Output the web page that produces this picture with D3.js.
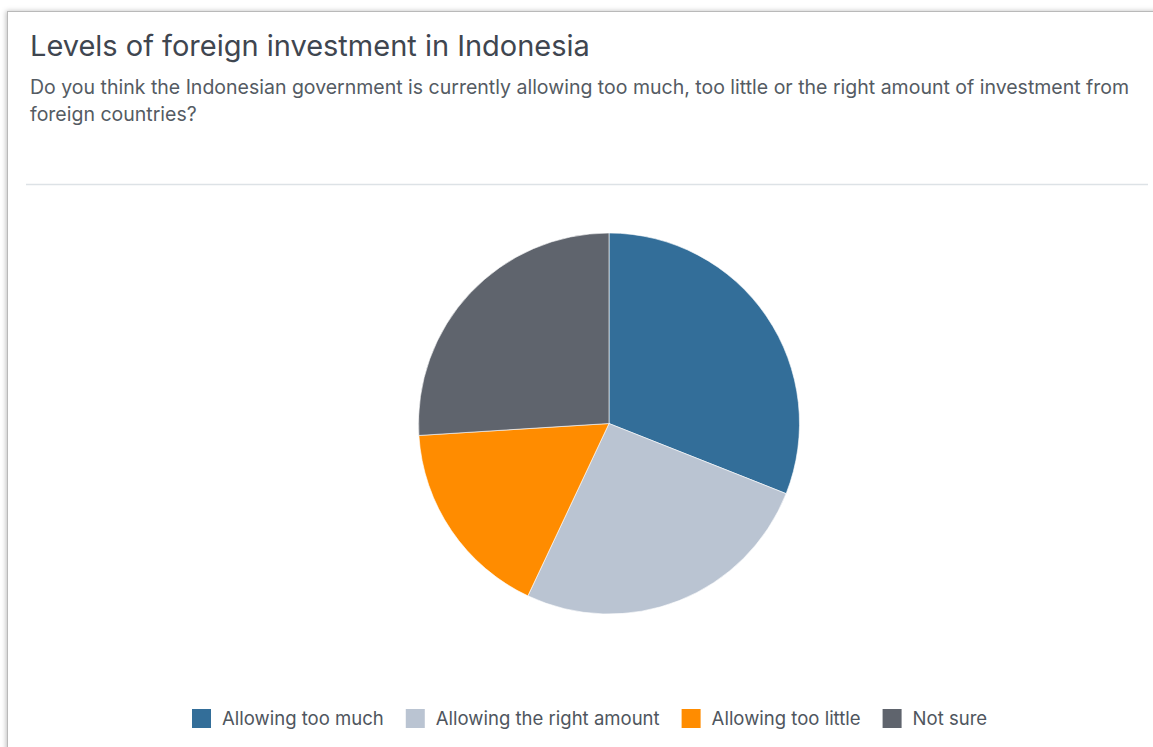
<!DOCTYPE html>
<html>
<head>
<meta charset="utf-8">
<script src="https://cdn.jsdelivr.net/npm/d3@7"></script>
<style>
  html, body { margin: 0; padding: 0; background: #ffffff; }
  svg { display: block; }
</style>
</head>
<body>
<svg id="chart" width="1153" height="747"></svg>
<script>
// Survey answers (share of respondents, %)
const categories = ["Allowing too much", "Allowing the right amount", "Allowing too little", "Not sure"];
const shares = [31, 26, 17, 26];
const colors = ["#336e99", "#bac4d2", "#ff8c00", "#5f646d"];

const titleText = "Levels of foreign investment in Indonesia";
const subtitleLines = [
  "Do you think the Indonesian government is currently allowing too much, too little or the right amount of investment from",
  "foreign countries?"
];

const W = 1153, H = 747;
const svg = d3.select("#chart");
const FONT = "Inter, 'Open Sans', sans-serif";

// Card with a soft shadow
const defs = svg.append("defs");
const f = defs.append("filter").attr("id", "shadow")
  .attr("x", "-5%").attr("y", "-5%").attr("width", "110%").attr("height", "110%");
f.append("feDropShadow").attr("dx", -1).attr("dy", 0).attr("stdDeviation", 2.5)
  .attr("flood-color", "#000").attr("flood-opacity", 0.25);

svg.append("rect")
  .attr("x", 7.5).attr("y", 11.5).attr("width", W + 20).attr("height", H + 20)
  .attr("fill", "#ffffff").attr("stroke", "#b9b9b9").attr("stroke-width", 1)
  .attr("filter", "url(#shadow)");

// Fit a text element to a target width by scaling its font size
function fitWidth(sel, target) {
  const w = sel.node().getComputedTextLength();
  const fs = parseFloat(sel.attr("font-size"));
  sel.attr("font-size", fs * target / w);
  return fs * target / w;
}

// Title and question
const title = svg.append("text")
  .attr("x", 30).attr("y", 56)
  .attr("font-family", FONT).attr("font-size", 26).attr("font-weight", 400)
  .attr("fill", "#3f4650")
  .text(titleText);
fitWidth(title, 560);

const sub = svg.append("g").attr("font-family", FONT).attr("fill", "#545b63");
subtitleLines.forEach((line, i) => {
  const t = sub.append("text")
    .attr("x", 30).attr("y", 94 + i * 27)
    .attr("font-size", 16.5)
    .text(line);
  if (i === 0) fitWidth(t, 1100);
});
const subFs = sub.select("text").attr("font-size");
sub.selectAll("text").attr("font-size", subFs);

// Separator under the header
svg.append("line")
  .attr("x1", 26).attr("x2", 1148).attr("y1", 184.5).attr("y2", 184.5)
  .attr("stroke", "#dde2e6").attr("stroke-width", 1.5);

// Pie
const cx = 609, cy = 423.5, R = 190.5;
const pie = d3.pie().sort(null).value(d => d.value);
const arc = d3.arc().innerRadius(0).outerRadius(R);
const data = categories.map((c, i) => ({ name: c, value: shares[i] }));
const color = d3.scaleOrdinal().domain(categories).range(colors);

svg.append("g")
  .attr("transform", `translate(${cx},${cy})`)
  .selectAll("path")
  .data(pie(data))
  .join("path")
  .attr("d", arc)
  .attr("fill", d => color(d.data.name))
  .attr("stroke", "#ffffff")
  .attr("stroke-width", 0.6);

// Legend
const legend = svg.append("g").attr("font-family", FONT).attr("fill", "#4f565e");
const probe = legend.append("text").attr("font-size", 16.5).text(categories[1]);
const legendFs = fitWidth(probe, 224);
probe.remove();
legend.attr("font-size", legendFs);

let lx = 192;
const ly = 709;
categories.forEach((c, i) => {
  legend.append("rect")
    .attr("x", lx).attr("y", ly).attr("width", 19).attr("height", 19)
    .attr("fill", color(c));
  const t = legend.append("text")
    .attr("x", lx + 30).attr("y", ly + 15.5)
    .text(c);
  lx += 30 + t.node().getComputedTextLength() + 22;
});
</script>
</body>
</html>
